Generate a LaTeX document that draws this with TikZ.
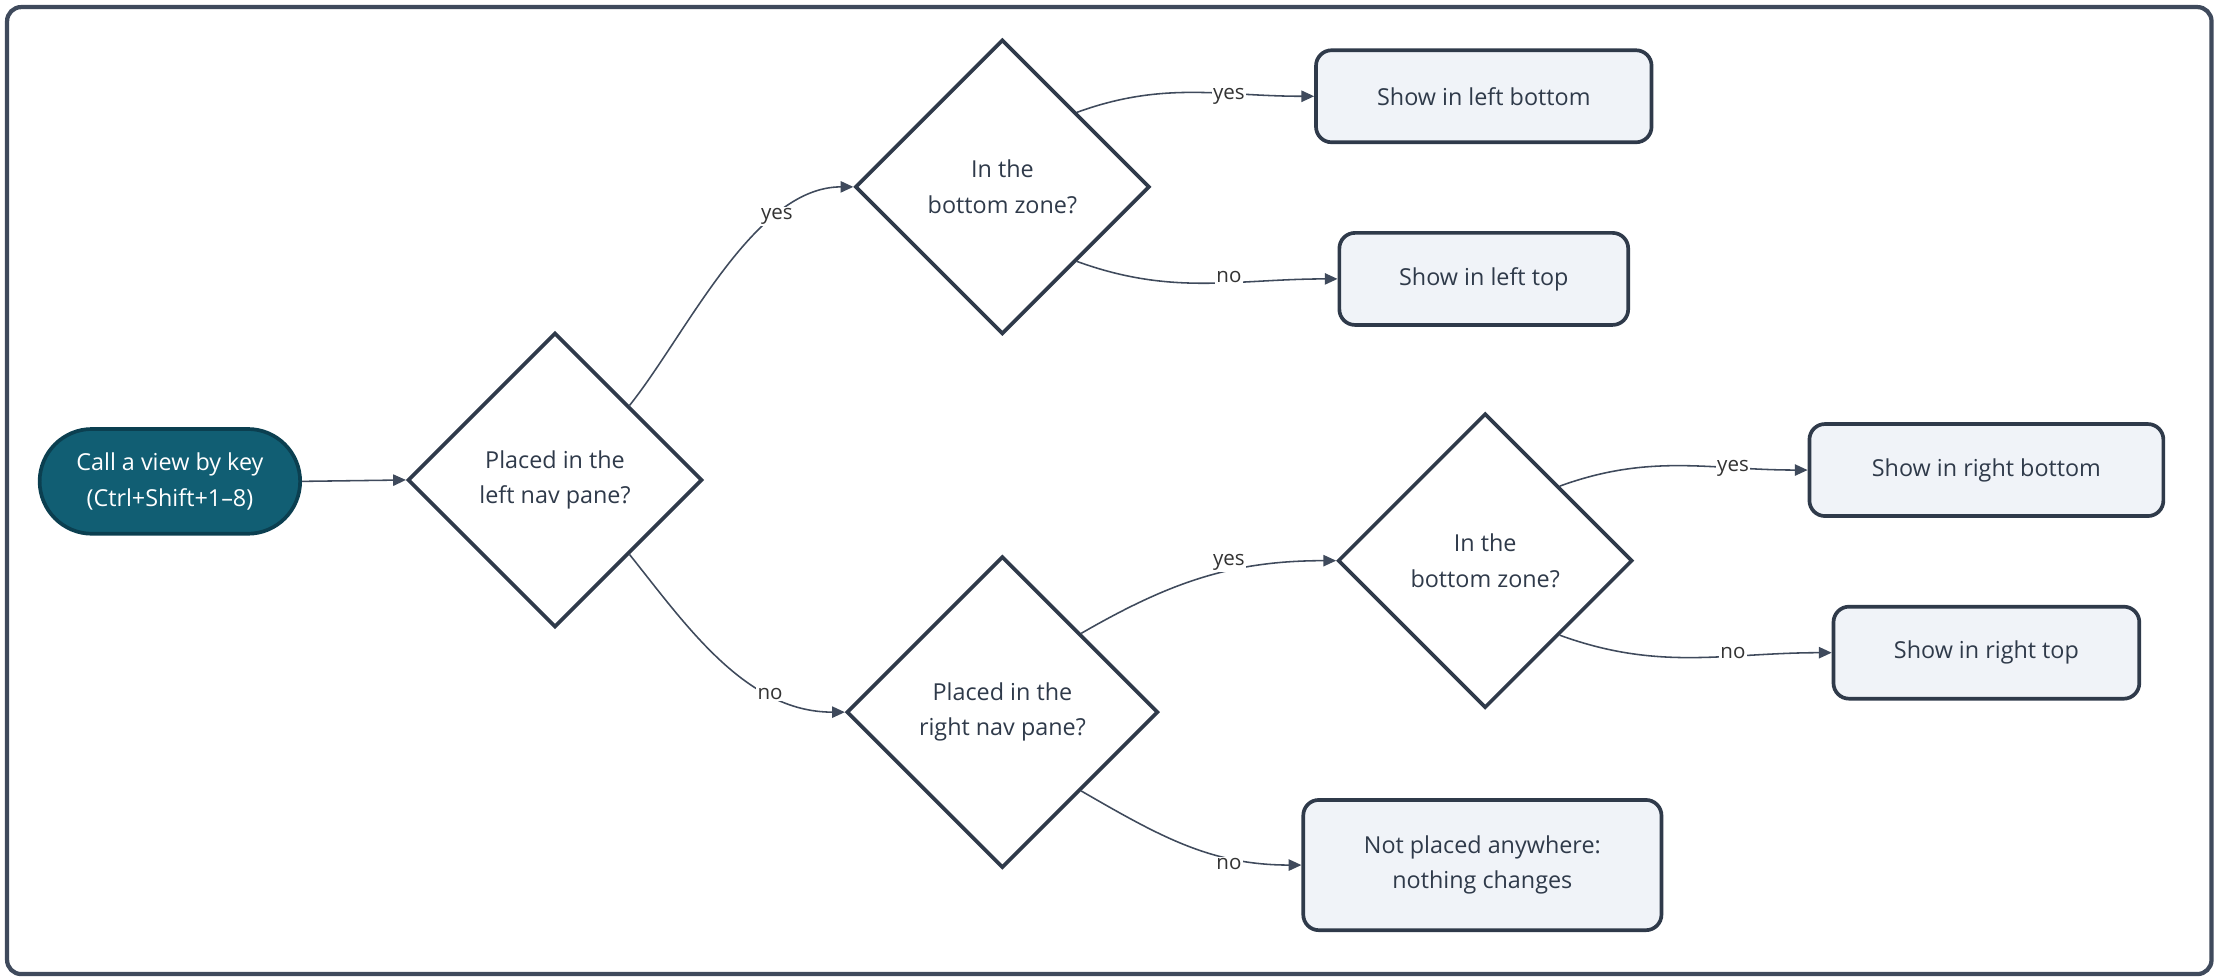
\documentclass[tikz,border=0pt]{standalone}
\usepackage{fontspec}
\setmainfont{Open Sans}
\usetikzlibrary{shapes.geometric,arrows.meta}
\definecolor{edge}{HTML}{3F4A5C}
\definecolor{boxfill}{HTML}{F0F3F8}
\definecolor{boxline}{HTML}{2F3A4A}
\definecolor{teal}{HTML}{115E73}
\definecolor{tealline}{HTML}{0B3F50}
\begin{document}
\begin{tikzpicture}[x=1pt,y=1pt,
  every node/.style={font=\fontsize{16.5}{25}\selectfont},
  box/.style={draw=boxline,line width=2.6pt,fill=boxfill,rounded corners=11pt,minimum height=65pt,align=center,text=boxline},
  dia/.style={diamond,draw=boxline,line width=2.6pt,fill=white,aspect=1,inner sep=0pt,align=center,text=boxline},
  conn/.style={draw=edge,line width=1.1pt,-{Triangle[length=9pt,width=8pt]}},
  lab/.style={font=\fontsize{14.5}{16}\selectfont,text=black!80,fill=white,inner sep=1pt}]
\useasboundingbox (0,0) rectangle (1568,-692);
\draw[draw=edge,line width=3pt,rounded corners=10pt,fill=white] (5,-5) rectangle (1562,-688);
\node[draw=tealline,line width=2.6pt,fill=teal,text=white,rounded corners=37pt,minimum width=184pt,minimum height=74pt,align=center] (s) at (120,-340) {Call a view by key\\(Ctrl+Shift+1–8)};
\node[dia,minimum width=208pt,minimum height=208pt] (d1) at (392,-339) {Placed in the\\left nav pane?};
\node[dia,minimum width=208pt,minimum height=208pt] (d2) at (708,-132) {In the\\bottom zone?};
\node[dia,minimum width=220pt,minimum height=220pt] (d3) at (708,-503) {Placed in the\\right nav pane?};
\node[dia,minimum width=208pt,minimum height=208pt] (d4) at (1049,-396) {In the\\bottom zone?};
\node[box,minimum width=237pt] (b1) at (1048,-68) {Show in left bottom};
\node[box,minimum width=204pt] (b2) at (1048,-197) {Show in left top};
\node[box,minimum width=250pt] (b3) at (1403,-332) {Show in right bottom};
\node[box,minimum width=216pt] (b4) at (1403,-461) {Show in right top};
\node[box,minimum width=253pt,minimum height=92pt] (b5) at (1047,-611) {Not placed anywhere:\\nothing changes};
\draw[conn] (s.east) -- (d1.west);
\draw[conn] (d1.north east) .. controls +(40,50) and +(-70,0) .. (d2.west) node[lab,pos=0.72] {yes};
\draw[conn] (d1.south east) .. controls +(40,-50) and +(-70,0) .. (d3.west) node[lab,pos=0.72] {no};
\draw[conn] (d2.north east) to[out=20,in=180] (b1.west) node[lab] at (868,-68) {yes};
\draw[conn] (d2.south east) to[out=-20,in=180] (b2.west) node[lab] at (868,-196) {no};
\draw[conn] (d3.north east) to[out=30,in=180] (d4.west) node[lab] at (868,-397) {yes};
\draw[conn] (d3.south east) to[out=-30,in=180] (b5.west) node[lab] at (868,-610) {no};
\draw[conn] (d4.north east) to[out=20,in=180] (b3.west) node[lab] at (1224,-331) {yes};
\draw[conn] (d4.south east) to[out=-20,in=180] (b4.west) node[lab] at (1224,-461) {no};
\end{tikzpicture}
\end{document}
